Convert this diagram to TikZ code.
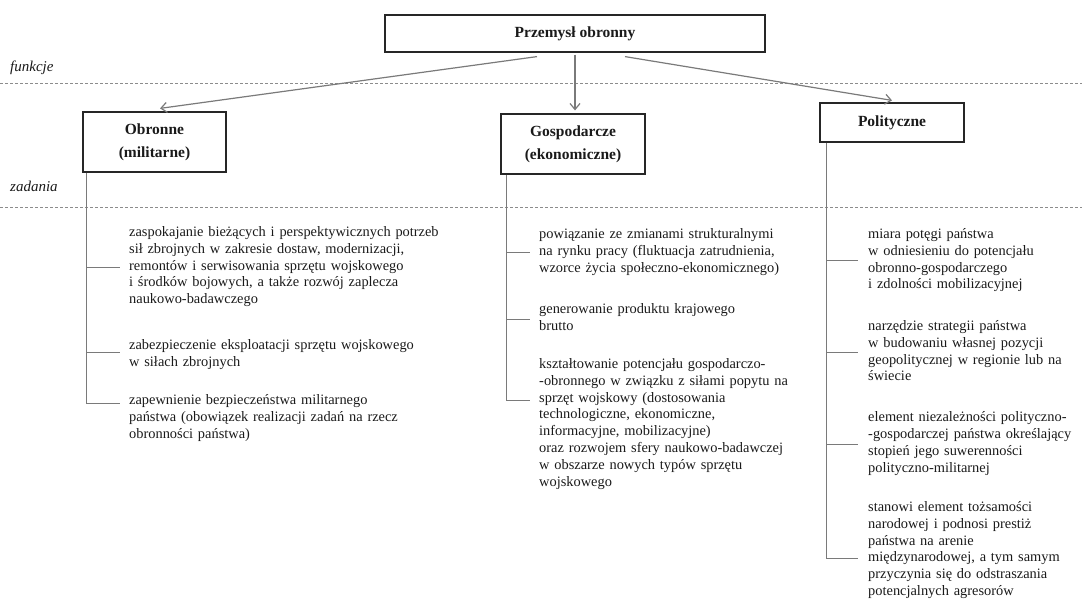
\documentclass[tikz,border=0pt]{standalone}
\usepackage{fontspec}
\setmainfont{Liberation Serif}
\usetikzlibrary{arrows.meta}
\definecolor{linegray}{HTML}{7A7A7A}
\definecolor{dashgray}{HTML}{8C8C8C}
\definecolor{txt}{HTML}{1A1A1A}
\begin{document}
\begin{tikzpicture}[x=1pt,y=-1pt,
  box/.style={draw=black!85, line width=1.2pt, fill=white, inner sep=0pt, align=center, text=txt,
    font=\fontsize{15.5}{23}\selectfont\bfseries},
  conn/.style={draw=linegray, line width=1.2pt, -{Straight Barb[length=6pt,width=10pt]}},
  tree/.style={draw=linegray, line width=0.9pt},
  sep/.style={draw=dashgray, line width=0.8pt, dash pattern=on 3pt off 2pt},
  lvl/.style={anchor=base west, inner sep=0pt, text=txt, font=\fontsize{15}{18}\selectfont\itshape},
  task/.style={anchor=base west, inner sep=0pt, align=left, text=txt,
    font=\fontsize{14.4}{16.8}\selectfont},
]
\useasboundingbox (0,0) rectangle (1082,601);

% level separators
\coordinate (f0) at (0,83);   \coordinate (f1) at (1082,83);
\coordinate (z0) at (0,207);  \coordinate (z1) at (1082,207);
\draw[sep] (f0) -- (f1);
\draw[sep] (z0) -- (z1);
\node[lvl] (funkcje) at (10,72) {funkcje};
\node[lvl] (zadania) at (10,192) {zadania};

% boxes
\node[box, minimum width=380pt, minimum height=37pt] (top) at (575,33.5) {Przemysł obronny};
\node[box, minimum width=143pt, minimum height=60pt] (obr) at (154.5,142) {Obronne\\(militarne)};
\node[box, minimum width=144pt, minimum height=60pt] (gos) at (573,144) {Gospodarcze\\(ekonomiczne)};
\node[box, minimum width=144pt, minimum height=39pt] (pol) at (892,122.5) {Polityczne};

% arrows
\draw[conn] ([xshift=-38pt,yshift=-4pt]top.south) -- ([xshift=5.5pt,yshift=3pt]obr.north);
\draw[conn] ([yshift=-2pt]top.south) -- ([yshift=3pt]top.south |- gos.north);
\draw[conn] ([xshift=50pt,yshift=-4pt]top.south) -- ([yshift=2pt]pol.north);

% task texts
\node[task, text width=330pt] (o1) at (129,236.5) {zaspokajanie bieżących i perspektywicznych potrzeb\\sił zbrojnych w zakresie dostaw, modernizacji,\\remontów i serwisowania sprzętu wojskowego\\i środków bojowych, a także rozwój zaplecza\\naukowo-badawczego};
\node[task, text width=330pt] (o2) at (129,349.5) {zabezpieczenie eksploatacji sprzętu wojskowego\\w siłach zbrojnych};
\node[task, text width=330pt] (o3) at (129,404.5) {zapewnienie bezpieczeństwa militarnego\\państwa (obowiązek realizacji zadań na rzecz\\obronności państwa)};

\node[task, text width=270pt] (g1) at (539,238.5) {powiązanie ze zmianami strukturalnymi\\na rynku pracy (fluktuacja zatrudnienia,\\wzorce życia społeczno-ekonomicznego)};
\node[task, text width=270pt] (g2) at (539,313.5) {generowanie produktu krajowego\\brutto};
\node[task, text width=270pt] (g3) at (539,368.5) {kształtowanie potencjału gospodarczo-\\-obronnego w związku z siłami popytu na\\sprzęt wojskowy (dostosowania\\technologiczne, ekonomiczne,\\informacyjne, mobilizacyjne)\\oraz rozwojem sfery naukowo-badawczej\\w obszarze nowych typów sprzętu\\wojskowego};

\node[task, text width=212pt] (p1) at (868,238.5) {miara potęgi państwa\\w odniesieniu do potencjału\\obronno-gospodarczego\\i zdolności mobilizacyjnej};
\node[task, text width=212pt] (p2) at (868,330.5) {narzędzie strategii państwa\\w budowaniu własnej pozycji\\geopolitycznej w regionie lub na\\świecie};
\node[task, text width=212pt] (p3) at (868,422) {element niezależności polityczno-\\-gospodarczej państwa określający\\stopień jego suwerenności\\polityczno-militarnej};
\node[task, text width=212pt] (p4) at (868,511.5) {stanowi element tożsamości\\narodowej i podnosi prestiż\\państwa na arenie\\międzynarodowej, a tym samym\\przyczynia się do odstraszania\\potencjalnych agresorów};

% trees
\coordinate (oL) at ([xshift=4pt]obr.south west);
\coordinate (ob1) at (120,267);
\coordinate (ob2) at (120,352);
\coordinate (ob3) at (120,403);
\draw[tree] (oL) |- (ob3);
\draw[tree] (oL |- ob1) -- (ob1);
\draw[tree] (oL |- ob2) -- (ob2);

\coordinate (gL) at ([xshift=6pt]gos.south west);
\coordinate (gb1) at (530,252);
\coordinate (gb2) at (530,319);
\coordinate (gb3) at (530,400);
\draw[tree] (gL) |- (gb3);
\draw[tree] (gL |- gb1) -- (gb1);
\draw[tree] (gL |- gb2) -- (gb2);

\coordinate (pL) at ([xshift=7pt]pol.south west);
\coordinate (pb1) at (858,260);
\coordinate (pb2) at (858,352);
\coordinate (pb3) at (858,444);
\coordinate (pb4) at (858,558);
\draw[tree] (pL) |- (pb4);
\draw[tree] (pL |- pb1) -- (pb1);
\draw[tree] (pL |- pb2) -- (pb2);
\draw[tree] (pL |- pb3) -- (pb3);
\end{tikzpicture}
\end{document}
